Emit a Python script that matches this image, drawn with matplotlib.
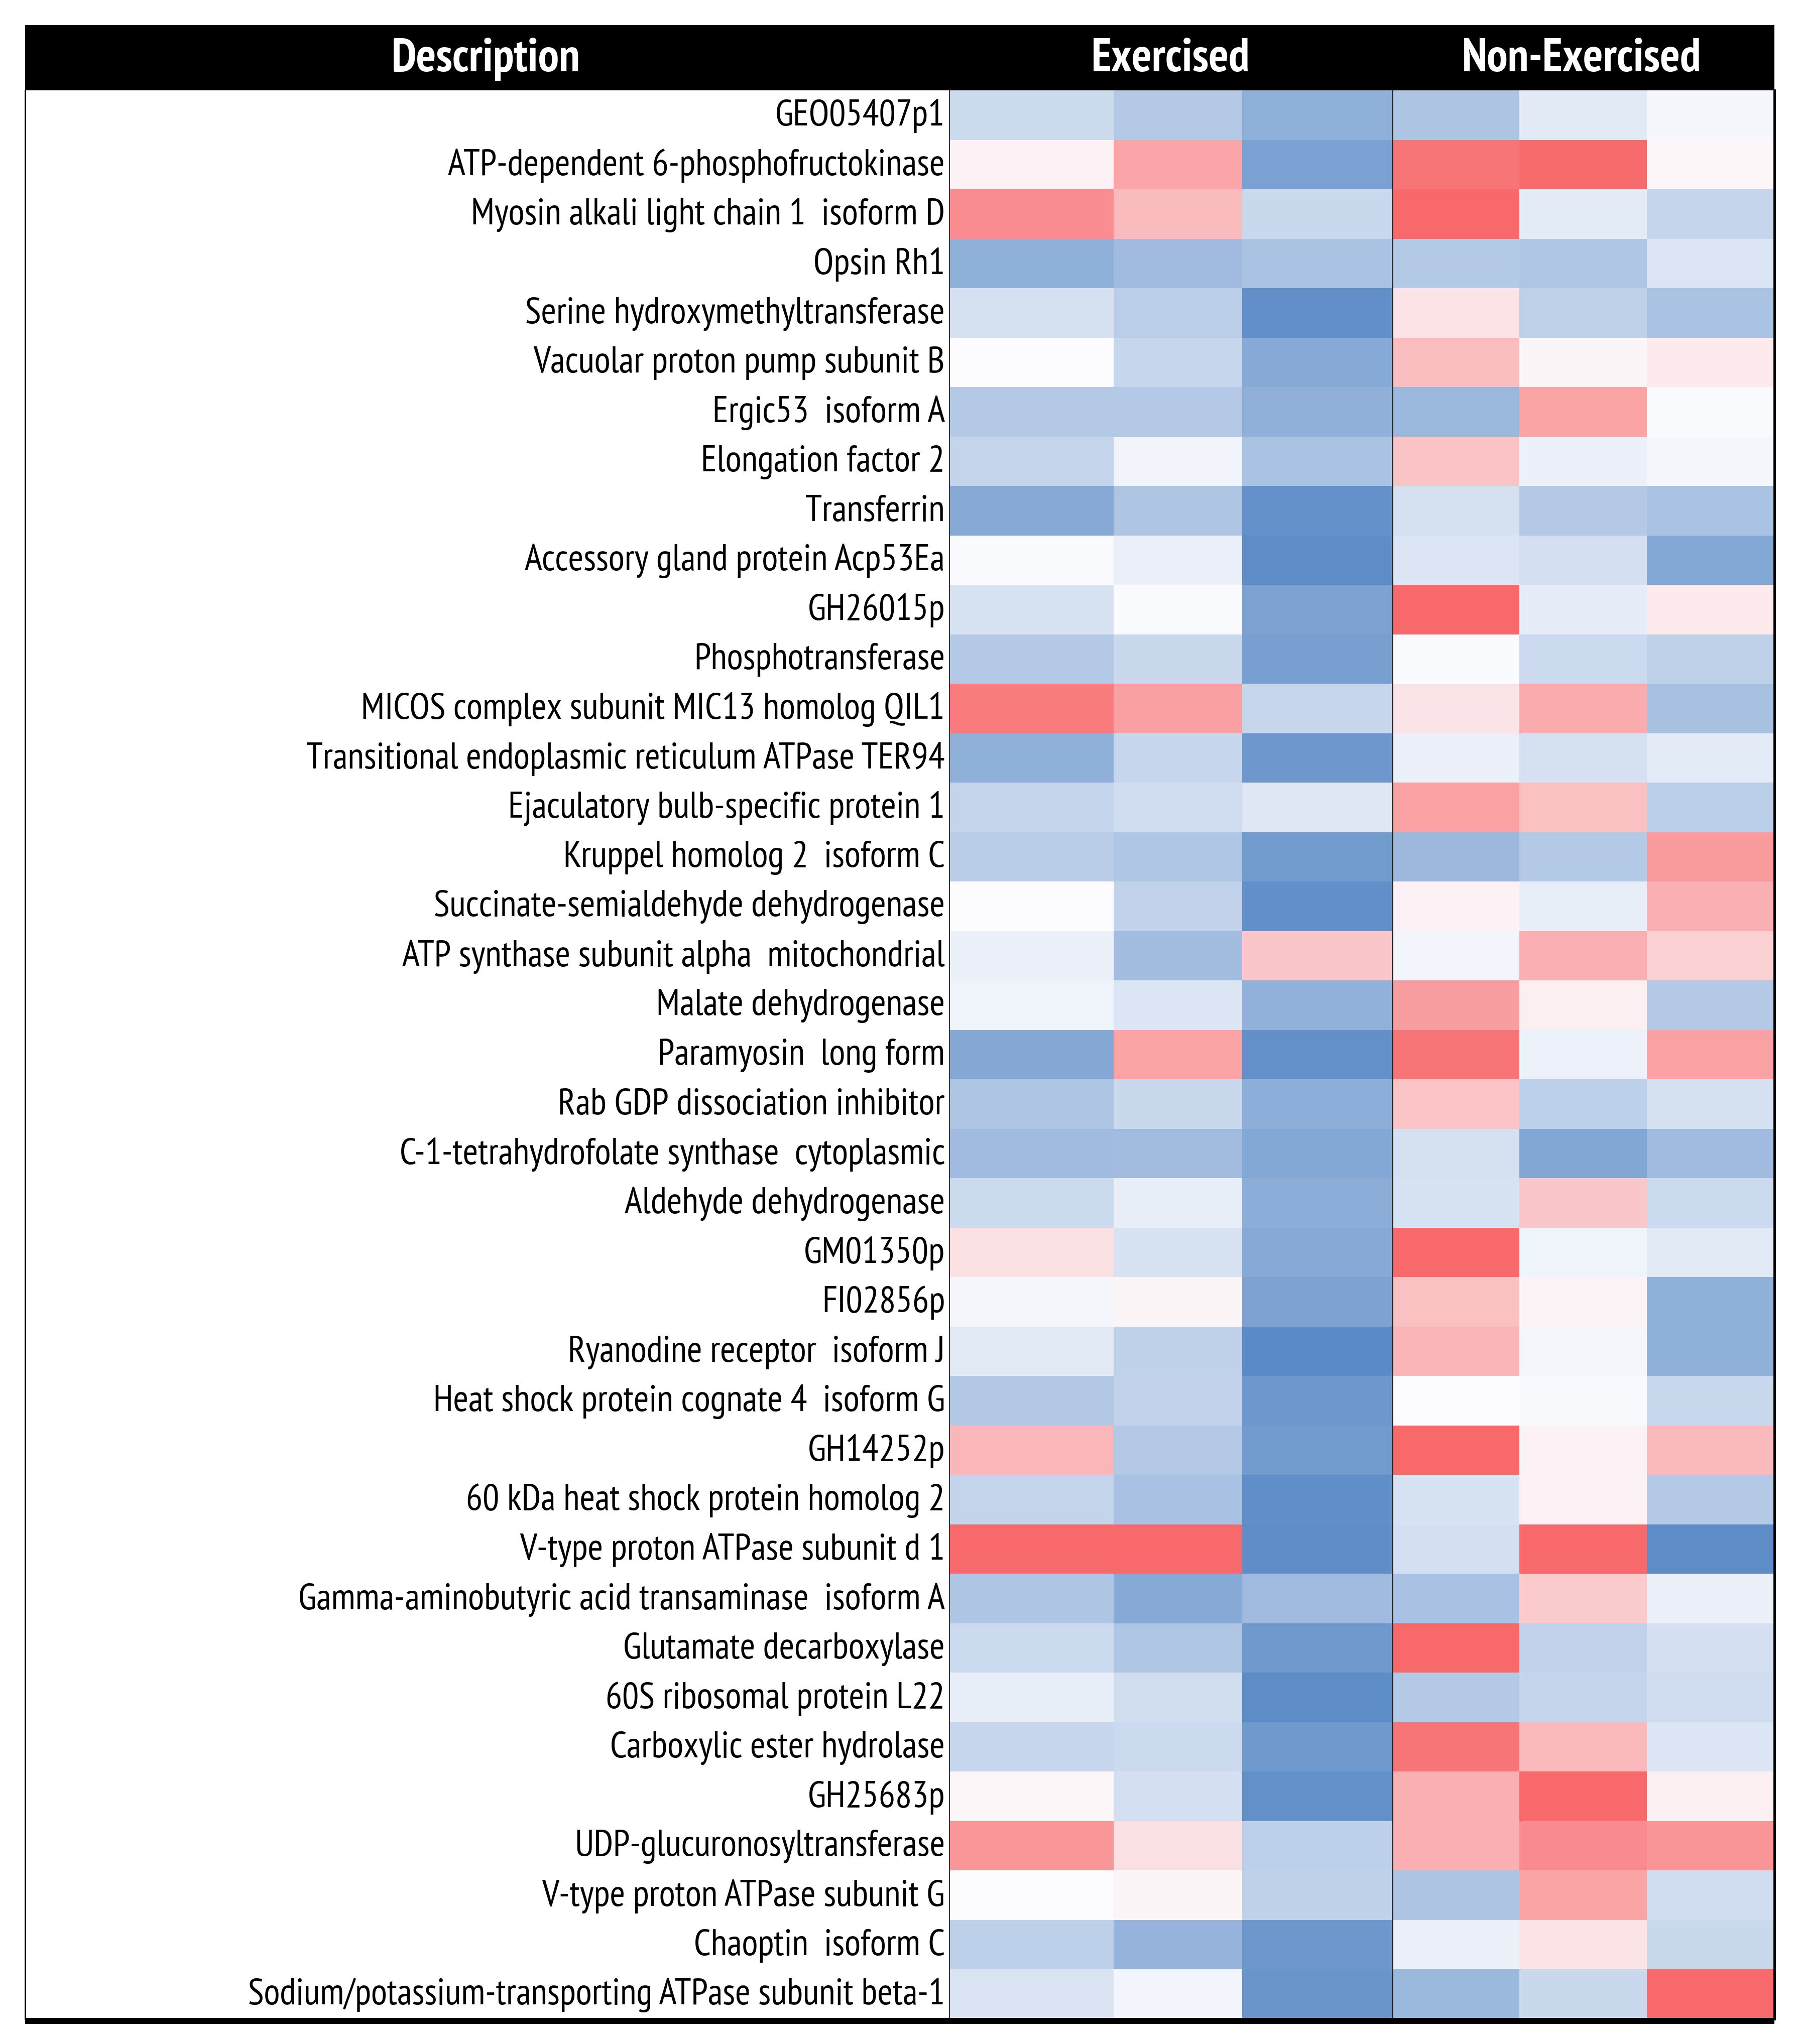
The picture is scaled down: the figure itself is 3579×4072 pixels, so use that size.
import numpy as np
import matplotlib
matplotlib.use("Agg")
import matplotlib.pyplot as plt
from matplotlib.colors import LinearSegmentedColormap
from matplotlib.patches import Rectangle

plt.rcParams["font.family"] = ["PT Sans Narrow", "DejaVu Sans"]

genes = [
    "GEO05407p1",
    "ATP-dependent 6-phosphofructokinase",
    "Myosin alkali light chain 1  isoform D",
    "Opsin Rh1",
    "Serine hydroxymethyltransferase",
    "Vacuolar proton pump subunit B",
    "Ergic53  isoform A",
    "Elongation factor 2",
    "Transferrin",
    "Accessory gland protein Acp53Ea",
    "GH26015p",
    "Phosphotransferase",
    "MICOS complex subunit MIC13 homolog QIL1",
    "Transitional endoplasmic reticulum ATPase TER94",
    "Ejaculatory bulb-specific protein 1",
    "Kruppel homolog 2  isoform C",
    "Succinate-semialdehyde dehydrogenase",
    "ATP synthase subunit alpha  mitochondrial",
    "Malate dehydrogenase",
    "Paramyosin  long form",
    "Rab GDP dissociation inhibitor",
    "C-1-tetrahydrofolate synthase  cytoplasmic",
    "Aldehyde dehydrogenase",
    "GM01350p",
    "FI02856p",
    "Ryanodine receptor  isoform J",
    "Heat shock protein cognate 4  isoform G",
    "GH14252p",
    "60 kDa heat shock protein homolog 2",
    "V-type proton ATPase subunit d 1",
    "Gamma-aminobutyric acid transaminase  isoform A",
    "Glutamate decarboxylase",
    "60S ribosomal protein L22",
    "Carboxylic ester hydrolase",
    "GH25683p",
    "UDP-glucuronosyltransferase",
    "V-type proton ATPase subunit G",
    "Chaoptin  isoform C",
    "Sodium/potassium-transporting ATPase subunit beta-1",
]

# relative expression, -1 = deepest blue, +1 = deepest red
exercised = [
    [-0.29, -0.45, -0.67],
    [0.07, 0.59, -0.79],
    [0.75, 0.44, -0.32],
    [-0.67, -0.57, -0.50],
    [-0.24, -0.40, -0.95],
    [0.00, -0.33, -0.72],
    [-0.45, -0.45, -0.66],
    [-0.35, -0.07, -0.50],
    [-0.72, -0.48, -0.93],
    [-0.01, -0.11, -0.98],
    [-0.23, -0.02, -0.78],
    [-0.45, -0.32, -0.82],
    [0.87, 0.62, -0.33],
    [-0.67, -0.33, -0.87],
    [-0.35, -0.27, -0.18],
    [-0.41, -0.47, -0.85],
    [0.00, -0.36, -0.95],
    [-0.10, -0.55, 0.36],
    [-0.08, -0.19, -0.65],
    [-0.73, 0.60, -0.94],
    [-0.48, -0.32, -0.68],
    [-0.57, -0.56, -0.74],
    [-0.29, -0.12, -0.69],
    [0.18, -0.23, -0.72],
    [-0.05, 0.05, -0.78],
    [-0.17, -0.37, -0.99],
    [-0.46, -0.36, -0.88],
    [0.47, -0.44, -0.85],
    [-0.35, -0.51, -0.96],
    [1.00, 1.00, -0.97],
    [-0.48, -0.72, -0.57],
    [-0.30, -0.47, -0.86],
    [-0.12, -0.26, -0.98],
    [-0.33, -0.30, -0.86],
    [0.04, -0.25, -0.94],
    [0.69, 0.19, -0.39],
    [0.00, 0.05, -0.37],
    [-0.39, -0.63, -0.88],
    [-0.21, -0.06, -0.90],
]

non_exercised = [
    [-0.49, -0.16, -0.04],
    [0.92, 0.98, 0.04],
    [1.00, -0.15, -0.34],
    [-0.44, -0.47, -0.20],
    [0.17, -0.38, -0.50],
    [0.42, 0.05, 0.12],
    [-0.60, 0.60, -0.02],
    [0.38, -0.10, -0.04],
    [-0.24, -0.45, -0.50],
    [-0.20, -0.25, -0.74],
    [1.00, -0.13, 0.12],
    [-0.01, -0.30, -0.38],
    [0.16, 0.54, -0.52],
    [-0.10, -0.24, -0.15],
    [0.61, 0.40, -0.40],
    [-0.59, -0.45, 0.66],
    [0.07, -0.12, 0.52],
    [-0.06, 0.52, 0.30],
    [0.64, 0.09, -0.45],
    [0.92, -0.09, 0.61],
    [0.37, -0.39, -0.24],
    [-0.24, -0.75, -0.57],
    [-0.23, 0.36, -0.30],
    [1.00, -0.08, -0.17],
    [0.40, 0.06, -0.67],
    [0.48, -0.05, -0.67],
    [0.00, -0.03, -0.32],
    [1.00, 0.07, 0.45],
    [-0.23, 0.07, -0.44],
    [-0.25, 1.00, -0.98],
    [-0.51, 0.34, -0.10],
    [1.00, -0.36, -0.25],
    [-0.45, -0.34, -0.27],
    [0.92, 0.45, -0.19],
    [0.52, 1.00, 0.08],
    [0.52, 0.77, 0.70],
    [-0.49, 0.60, -0.27],
    [-0.10, 0.17, -0.32],
    [-0.60, -0.32, 1.00],
]

headers = ["Description", "Exercised", "Non-Exercised"]

# layout in pixels
W, H = 3579, 4072
LEFT, RIGHT = 50, 3534
TOP, HEAD_BOT, BOTTOM = 50, 180, 4022
col_edges = np.array([1891, 2218, 2474, 2773, 3026, 3280, RIGHT])
row_edges = np.linspace(HEAD_BOT, BOTTOM, len(genes) + 1)

cmap = LinearSegmentedColormap.from_list("rwb", ["#5A8AC6", "#FCFCFF", "#F8696B"])
values = np.hstack([np.array(exercised), np.array(non_exercised)])

fig = plt.figure(figsize=(W / 100, H / 100), dpi=100)
ax = fig.add_axes([0, 0, 1, 1])
ax.set_xlim(0, W)
ax.set_ylim(H, 0)
ax.axis("off")

ax.pcolormesh(col_edges, row_edges, values, cmap=cmap, vmin=-1, vmax=1,
              shading="flat", edgecolors="none")

# header band
ax.add_patch(Rectangle((LEFT, TOP), RIGHT - LEFT, HEAD_BOT - TOP,
                       facecolor="black", edgecolor="none", zorder=3))
head_y = (TOP + HEAD_BOT) / 2 + 3
for txt, x in zip(headers, [968, 2332, 3150]):
    ax.text(x, head_y, txt, color="white", fontsize=67, fontweight="bold",
            ha="center", va="center", zorder=4)

# row labels
centers = (row_edges[:-1] + row_edges[1:]) / 2
for name, y in zip(genes, centers):
    ax.text(1882, y + 2, name, fontsize=53, ha="right", va="center", color="black")

# frame lines
ax.plot([LEFT, LEFT], [HEAD_BOT, BOTTOM], color="black", lw=2)
ax.plot([col_edges[0], col_edges[0]], [HEAD_BOT, BOTTOM], color="#333333", lw=1.5)
ax.plot([col_edges[3], col_edges[3]], [HEAD_BOT, BOTTOM], color="#222222", lw=2)
ax.plot([RIGHT, RIGHT], [HEAD_BOT, BOTTOM], color="black", lw=3.5)
ax.add_patch(Rectangle((LEFT, BOTTOM - 2), RIGHT - LEFT, 12,
                       facecolor="black", edgecolor="none", zorder=3))

fig.savefig("out.png", dpi=100)
